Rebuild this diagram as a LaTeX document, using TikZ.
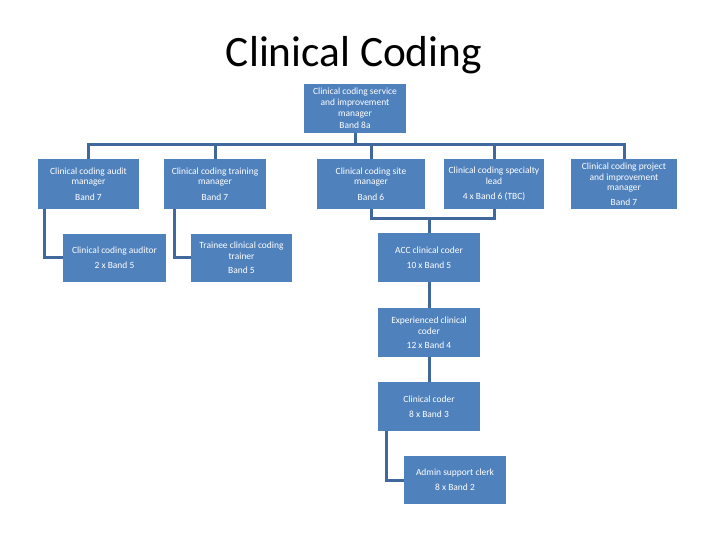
\documentclass[tikz,border=0pt]{standalone}
\usepackage{fontspec}
\setmainfont{Carlito}
\definecolor{postblue}{RGB}{79,129,189}
\definecolor{linkblue}{RGB}{65,104,156}
\tikzset{
    post/.style={fill=postblue, text=white, align=center, minimum width=102bp, minimum height=49bp, inner sep=1bp, font=\fontsize{9.5}{10.8}\selectfont},
    link/.style={draw=linkblue, line width=3bp}
}
\begin{document}
\begin{tikzpicture}[x=1bp, y=-1bp]
    \useasboundingbox (0,0) rectangle (720,540) ;
    \node [anchor=base, font=\fontsize{43.5}{43.5}\selectfont] (title) at (354,67) {Clinical Coding} ;

    \node [post] (lead) at (355,108.5) {Clinical coding service\\and improvement\\manager\\[2bp]Band 8a} ;

    \node [post, minimum width=101bp, minimum height=50bp] (audit) at (88.5,184) {Clinical coding audit\\manager\\[4.5bp]Band 7} ;
    \node [post, minimum height=50bp] (training) at (215,184) {Clinical coding training\\manager\\[4.5bp]Band 7} ;
    \node [post, minimum width=108bp, minimum height=50bp] (site) at (371,184) {Clinical coding site\\manager\\[4.5bp]Band 6} ;
    \node [post, minimum width=100bp, minimum height=50bp] (specialty) at (494,184) {Clinical coding specialty\\lead\\[4.5bp]4 x Band 6 (TBC)} ;
    \node [post, minimum width=106bp, minimum height=50bp] (project) at (624,184) {Clinical coding project\\and improvement\\manager\\[3.5bp]Band 7} ;

    \node [post, minimum width=103bp, minimum height=48bp] (auditor) at (114.5,258) {Clinical coding auditor\\[4.5bp]2 x Band 5} ;
    \node [post, minimum width=101bp, minimum height=48bp] (trainee) at (241.5,258) {Trainee clinical coding\\trainer\\[3.5bp]Band 5} ;
    \node [post] (acc) at (429,257.5) {ACC clinical coder\\[4.5bp]10 x Band 5} ;
    \node [post] (experienced) at (429,332.5) {Experienced clinical\\coder\\[3.5bp]12 x Band 4} ;
    \node [post] (coder) at (429,406.5) {Clinical coder\\[4.5bp]8 x Band 3} ;
    \node [post, minimum height=48bp] (admin) at (455,480) {Admin support clerk\\[4.5bp]8 x Band 2} ;

    \coordinate (bus) at (355,145) ;
    \coordinate (join) at (429,219) ;
    \draw [link] (lead.south) -- (bus) ;
    \foreach \n in {audit, training, site, specialty, project}
        \draw [link] (bus) -| (\n.north) ;
    \draw [link] ([xshift=7bp]audit.south west) |- (auditor.west) ;
    \draw [link] ([xshift=11bp]training.south west) |- (trainee.west) ;
    \draw [link] (site.south) |- (join) -| (specialty.south) ;
    \draw [link] (join) -- (acc.north) ;
    \draw [link] (acc.south) -- (experienced.north) ;
    \draw [link] (experienced.south) -- (coder.north) ;
    \draw [link] ([xshift=9bp]coder.south west) |- (admin.west) ;
\end{tikzpicture}
\end{document}
